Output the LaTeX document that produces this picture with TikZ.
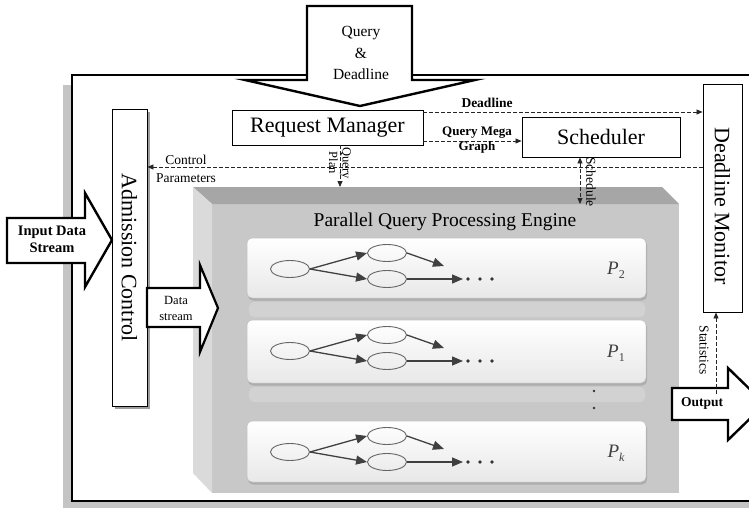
\documentclass[tikz,border=0pt]{standalone}
\usepackage{fontspec}
\setmainfont{Liberation Serif}
\usetikzlibrary{arrows.meta,shapes.geometric,calc}

\definecolor{engtop}{HTML}{A6A6A6}
\definecolor{engside}{HTML}{DADADA}
\definecolor{engfront}{HTML}{C8C8C8}
\definecolor{ghost}{HTML}{D2D2D2}
\definecolor{frameshadow}{HTML}{C4C4C4}

% faint reflection below a lane: #1 bottom of the lane
\newcommand\qghost[1]{%
  \fill[ghost,rounded corners=5pt] (249,{#1+4}) rectangle (645,{#1+19});
}
% one processing lane: #1 name prefix, #2 top, #3 bottom, #4 label
\newcommand\qpanel[4]{%
  \fill[black!32,rounded corners=5pt] (248,{#2+2}) rectangle (647,{#3+2.5});
  \draw[panel] (247,#2) rectangle (646,#3);
  \node[ell] (#1a) at (290,{#2+31}) {};
  \node[ell] (#1b) at (387,{#2+15}) {};
  \node[ell] (#1c) at (387,{#2+41}) {};
  \coordinate (#1d) at (444,{#2+28});
  \coordinate (#1e) at (463,{#2+41});
  \draw[garrow] (#1a.east) -- (#1b.west);
  \draw[garrow] (#1a.east) -- (#1c.west);
  \draw[garrow] (#1b.east) -- (#1d);
  \draw[garrow] (#1c.east) -- (#1e);
  \foreach \dx in {5,17,29} \fill[black!80] ($(#1e)+(\dx,0)$) circle (1.8);
  \node[plabel] (#1p) at (616,{(#2+#3)/2+2}) {#4};
}

\begin{document}
\begin{tikzpicture}[x=1pt,y=-1pt,
  box/.style={draw=black,line width=0.9pt,fill=white,inner sep=0pt},
  bigtext/.style={font=\fontsize{22}{24}\selectfont},
  flow/.style={draw=black!85,dash pattern=on 3.5pt off 2.5pt,line width=0.8pt,
    -{Triangle[length=6pt,width=5pt]}},
  blockarrow/.style={draw=black,line width=2.4pt,fill=white,line join=miter},
  bold/.style={font=\fontsize{13}{14}\selectfont\bfseries,inner sep=1pt,align=center},
  small/.style={font=\fontsize{13.5}{15}\selectfont,inner sep=1pt,align=center},
  panel/.style={draw=black!25,line width=0.5pt,rounded corners=5pt,
    top color=white,bottom color=black!9},
  ell/.style={ellipse,draw=black!60,line width=0.9pt,minimum width=39pt,
    minimum height=17pt,inner sep=0pt},
  garrow/.style={draw=black!75,line width=1.3pt,-{Triangle[length=11pt,width=9pt]}},
  plabel/.style={font=\fontsize{19}{20}\selectfont,text=black!75}]

\useasboundingbox (0,0) rectangle (749,508);
\clip (0,0) rectangle (749,508);

% outer system frame with its shadow
\fill[frameshadow] (63,85) rectangle (770,510);
\draw[line width=2.6pt,fill=white] (72,75) rectangle (775,501);

% incoming query and deadline
\draw[blockarrow] (307,6) -- (412,6) -- (412,80) -- (475,80) -- (360,106)
  -- (245,80) -- (307,80) -- cycle;
\node[align=center,font=\fontsize{15.5}{21.5}\selectfont] (qd) at (361,53) {Query\\\&\\Deadline};

% control components
\node[box,minimum width=191pt,minimum height=35pt] (rm) at (327.5,127.5) {};
\node[bigtext] (rmt) at (rm.center) {Request Manager};
\node[box,minimum width=158pt,minimum height=40pt] (sch) at (601,137) {};
\node[bigtext] (scht) at (sch.center) {Scheduler};
\node[box,minimum width=39pt,minimum height=228pt] (dm) at (722.5,198) {};
\node[bigtext,rotate=-90] (dmt) at (722.5,206) {Deadline Monitor};
\fill[black!38] (115,112) rectangle (150,409);
\node[box,minimum width=35pt,minimum height=297pt] (ac) at (129.5,257.5) {};
\node[bigtext,rotate=-90] (act) at (ac.center) {Admission Control};

% parallel query processing engine
\coordinate (eo) at (193,187);
\coordinate (etr) at (662,187);
\coordinate (ei) at (212,204);
\coordinate (efr) at (679,204);
\coordinate (ebl) at (193,473);
\coordinate (efbl) at (212,493);
\coordinate (efbr) at (679,493);
\fill[engfront] (ei) rectangle (efbr);
\fill[engtop] (eo) -- (etr) -- (efr) -- (ei) -- cycle;
\fill[engside] (eo) -- (ei) -- (efbl) -- (ebl) -- cycle;
\node[font=\fontsize{19.5}{21}\selectfont] (eng) at (445,222) {Parallel Query Processing Engine};

\qghost{298}
\qghost{383}
\qpanel{pa}{238}{298}{\textit{P}\raisebox{-0.45ex}{\fontsize{12}{12}\selectfont 2}}
\qpanel{pb}{320}{383}{\textit{P}\raisebox{-0.45ex}{\fontsize{12}{12}\selectfont 1}}
\qpanel{pc}{421}{482}{\textit{P}\raisebox{-0.45ex}{\fontsize{12}{12}\selectfont\itshape k}}
\fill[black!80] (594,391) circle (1.3);
\fill[black!80] (594,408) circle (1.3);

% data streams
\draw[blockarrow] (7,218) -- (85,218) -- (85,193) -- (112,240) -- (85,287)
  -- (85,263) -- (7,263) -- cycle;
\node[bold,font=\fontsize{14.5}{17}\selectfont\bfseries] (ids) at (52,239) {Input Data\\Stream};
\draw[blockarrow,line width=2.2pt] (147,288) -- (200,288) -- (200,265) -- (218,308)
  -- (200,352) -- (200,327) -- (147,327) -- cycle;
\node[small,font=\fontsize{12.5}{16}\selectfont] (dst) at (176,308) {Data\\stream};
\draw[blockarrow] (672,388) -- (728,388) -- (728,368) -- (765,404) -- (728,440)
  -- (728,420) -- (672,420) -- cycle;
\node[bold,font=\fontsize{13.5}{15}\selectfont\bfseries] (out) at (702,403) {Output};

% control flow between components
\coordinate (yd) at (0,112);
\coordinate (yq) at (0,141);
\coordinate (yc) at (0,167);
\coordinate (xp) at (340,0);
\coordinate (xs) at (580,0);
\coordinate (xt) at (716,0);
\draw[flow] (rm.east |- yd) -- (dm.west |- yd);
\node[bold,font=\fontsize{13.5}{15}\selectfont\bfseries] (dl) at (487,103) {Deadline};
\draw[flow] (rm.east |- yq) -- (sch.west |- yq);
\node[bold,font=\fontsize{13}{15.5}\selectfont\bfseries] (qmg) at (477,140) {Query Mega\\Graph};
\draw[flow] (dm.west |- yc) -- (ac.east |- yc);
\node[small,font=\fontsize{13.5}{17.5}\selectfont] (cpar) at (186,169) {Control\\Parameters};
\draw[flow] (rm.south -| xp) -- (eo -| xp);
\node[small,rotate=-90,font=\fontsize{12.5}{13.5}\selectfont] (qpl) at (340,163) {Query\\Plan};
\draw[flow,{Triangle[length=6pt,width=5pt]}-{Triangle[length=6pt,width=5pt]}]
  (sch.south -| xs) -- (ei -| xs);
\node[small,rotate=-90] (sched) at (591,182) {Schedule};
\draw[flow] (out.north -| xt) ++(0,-2) -- (dm.south -| xt);
\node[small,rotate=-90] (stat) at (704,350) {Statistics};
\end{tikzpicture}
\end{document}
